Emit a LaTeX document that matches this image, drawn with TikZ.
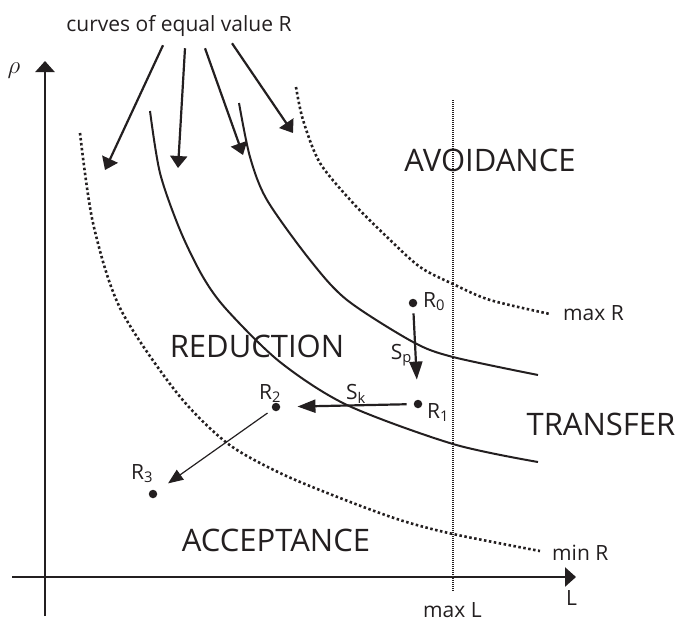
\documentclass[tikz,border=0pt]{standalone}
\usepackage{fontspec}
\setmainfont{Open Sans}
\usetikzlibrary{arrows.meta}
\definecolor{ink}{HTML}{231F20}

\tikzset{
  big/.style={font=\fontsize{31}{36}\selectfont,inner sep=0pt},
  small/.style={font=\fontsize{21}{24}\selectfont,inner sep=0pt},
  dot/.style={circle,fill=ink,inner sep=0pt,minimum size=8.5pt},
  axis/.style={line width=2.6pt,-{Triangle[length=11pt,width=19pt]}},
  pointer/.style={line width=2.2pt,-{Triangle[length=12pt,width=17pt]}},
  move/.style={line width=2.2pt,-{Triangle[length=18pt,width=13pt]}},
  iso/.style={line width=2pt},
  isodot/.style={line width=2.6pt,dash pattern=on 2.5pt off 2.5pt},
}

\begin{document}
\begin{tikzpicture}[x=1pt,y=-1pt,color=ink,line cap=butt]
  \path[use as bounding box] (0,0) rectangle (676,622);

  % axes
  \coordinate (lstart) at (12,577);
  \coordinate (lend) at (576,577);
  \coordinate (rstart) at (45,616);
  \coordinate (rend) at (45,61);
  \draw[axis] (lstart) -- (lend);
  \draw[axis] (rstart) -- (rend);
  \node[font=\fontsize{26}{30}\selectfont,inner sep=0pt] (rho) at (14,71) {$\rho$};
  \node[small,anchor=base west] (llab) at (566,605) {L};

  % max L
  \coordinate (maxltop) at (453,100);
  \coordinate (maxlbot) at (453,591);
  \draw[line width=2pt,dash pattern=on 1.3pt off 0.7pt] (maxltop) -- (maxlbot);
  \node[small,anchor=base west] (maxl) at (423,617) {max L};

  % curves of equal value R
  \draw[isodot] plot[smooth] coordinates {(80,133) (93,223) (120,308) (177,393) (227,443) (280,473) (340,498) (400,520) (453,534) (540,551)};
  \draw[iso] plot[smooth] coordinates {(150,111) (160,173) (180,230) (203,277) (227,310) (280,362) (347,405) (453,444) (538,462)};
  \draw[iso] plot[smooth] coordinates {(239,103) (250,157) (267,200) (310,260) (347,300) (413,342) (453,357) (538,375)};
  \draw[isodot] plot[smooth] coordinates {(296,87) (303,120) (320,163) (353,203) (387,237) (420,267) (453,284) (490,300) (550,314)};
  \node[small,anchor=base west] (maxr) at (563,320) {max R};
  \node[small,anchor=base west] (minr) at (552,560) {min R};

  \node[small,anchor=base] (curves) at (179,31) {curves of equal value R};
  \coordinate (tipa) at (105,170);
  \coordinate (tipb) at (178,168);
  \coordinate (tipc) at (243,155);
  \coordinate (tipd) at (293,133);
  \foreach \dx/\dy/\tip in {-16/-9/tipa,6/-12/tipb,26/-12/tipc,53/-7/tipd}
    \draw[pointer] ([xshift=\dx pt,yshift=\dy pt]curves.south) -- (\tip);

  % regions
  \node[big] (avoid) at (490,160) {AVOIDANCE};
  \node[big] (reduct) at (257,346) {REDUCTION};
  \node[big] (transf) at (601,424) {TRANSFER};
  \node[big] (accept) at (276,540) {ACCEPTANCE};

  % risk points and strategies
  \node[dot] (r0) at (413,303) {};
  \node[dot] (r1) at (418,404) {};
  \node[dot] (r2) at (276,407) {};
  \node[dot] (r3) at (153,494) {};
  \node[small,anchor=base west] (r0lab) at (423,307) {R\textsubscript{0}};
  \node[small,anchor=base west] (r1lab) at (427,418) {R\textsubscript{1}};
  \node[small,anchor=base west] (r2lab) at (259,399) {R\textsubscript{2}};
  \node[small,anchor=base west] (r3lab) at (131,479) {R\textsubscript{3}};
  \draw[move,shorten <=6pt,shorten >=20pt] (r0) -- (r1);
  \draw[move,shorten <=7pt,shorten >=17pt] (r1) -- (r2);
  \draw[line width=1.2pt,-{Triangle[length=15pt,width=12pt]},shorten <=6pt,shorten >=14pt] (r2) -- (r3);
  \node[small,anchor=base east] (sp) at (412,359) {S\textsubscript{p}};
  \node[small,anchor=base west] (sk) at (346,399) {S\textsubscript{k}};
\end{tikzpicture}
\end{document}
